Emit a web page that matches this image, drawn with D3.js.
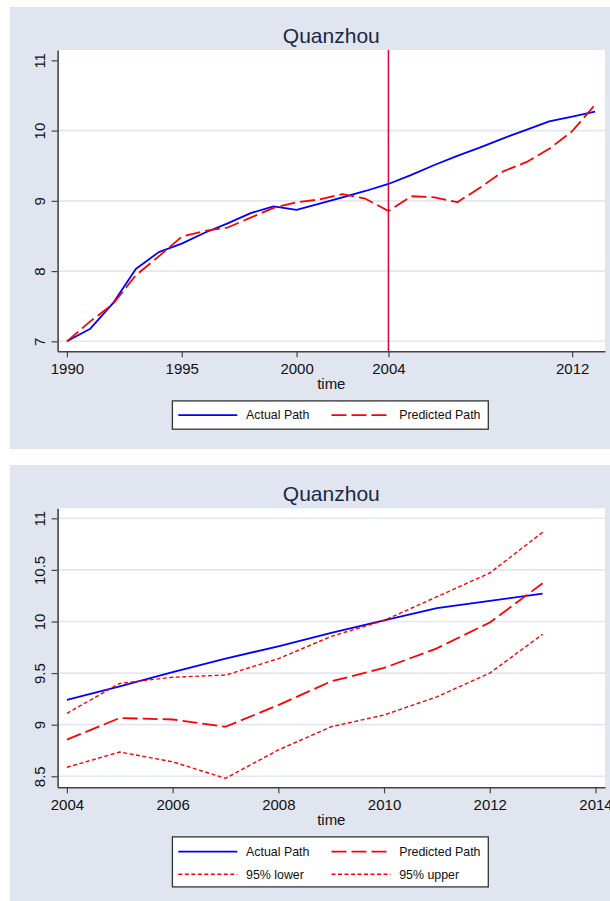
<!DOCTYPE html>
<html>
<head>
<meta charset="utf-8">
<script src="https://cdn.jsdelivr.net/npm/d3@7"></script>
<style>
  html, body { margin: 0; padding: 0; background: #ffffff; }
  svg { display: block; font-family: "Liberation Sans", Arial, sans-serif; }
</style>
</head>
<body>
<svg id="chart" width="610" height="901"></svg>
<script>
// Synthetic control paths for Quanzhou (log scale outcome)
const years = [1990, 1991, 1992, 1993, 1994, 1995, 1996, 1997, 1998, 1999, 2000, 2001,
               2002, 2003, 2004, 2005, 2006, 2007, 2008, 2009, 2010, 2011, 2012, 2013];
const actualPath = [7.00, 7.175, 7.54, 8.03, 8.27, 8.39, 8.545, 8.68, 8.825, 8.92, 8.87, 8.96,
                    9.05, 9.14, 9.24, 9.37, 9.51, 9.64, 9.76, 9.89, 10.01, 10.13, 10.20, 10.27];
const predictedPath = [7.00, 7.28, 7.53, 7.94, 8.21, 8.49, 8.57, 8.62, 8.76, 8.90, 8.98, 9.02,
                       9.095, 9.03, 8.855, 9.065, 9.05, 8.98, 9.19, 9.42, 9.55, 9.74, 9.99, 10.37];

// Forecast window with 95% bounds
const forecastYears = [2004, 2005, 2006, 2007, 2008, 2009, 2010, 2011, 2012, 2013];
const lower95 = [8.587, 8.735, 8.64, 8.48, 8.755, 8.98, 9.094, 9.27, 9.50, 9.876];
const upper95 = [9.11, 9.40, 9.46, 9.48, 9.64, 9.855, 10.01, 10.24, 10.47, 10.865];

const treatmentYear = 2004;

const topXTicks = [1990, 1995, 2000, 2004, 2012];
const topYTicks = [7, 8, 9, 10, 11];
const topGrid = [7, 8, 9, 10];
const bottomXTicks = [2004, 2006, 2008, 2010, 2012, 2014];
const bottomYTicks = [8.5, 9, 9.5, 10, 10.5, 11];

const titleText = "Quanzhou";
const xTitle = "time";

const BG = "#e0e5ef";
const GRID = "#e3e7f0";
const AXIS = "#444";
const BLUE = "#0000ff";
const RED = "#ff0000";
const VLINE = "#d20a3c";

const svg = d3.select("#chart");

function fmt(v) { return String(v); }

function drawPanel(cfg) {
  const g = svg.append("g");
  // panel background
  g.append("rect").attr("x", 10).attr("y", cfg.top).attr("width", 600).attr("height", cfg.height)
    .attr("fill", BG);

  const x = d3.scaleLinear().domain(cfg.xDomain).range([57.6, 605]);
  const y = d3.scaleLinear().domain(cfg.yDomain).range([cfg.plotBottom, cfg.plotTop]);

  // plot region
  g.append("rect").attr("x", 57.6).attr("y", cfg.plotTop)
    .attr("width", 605 - 57.6).attr("height", cfg.plotBottom - cfg.plotTop)
    .attr("fill", "#ffffff");

  // gridlines
  g.append("g").selectAll("line").data(cfg.grid).join("line")
    .attr("x1", 57.6).attr("x2", 605)
    .attr("y1", d => y(d)).attr("y2", d => y(d))
    .attr("stroke", GRID).attr("stroke-width", 1.6);

  // title
  g.append("text").attr("x", (57.6 + 605) / 2).attr("y", cfg.top + 36.4)
    .attr("text-anchor", "middle").attr("font-size", 21).attr("fill", "#1c2746")
    .text(titleText);

  // extra marks (vertical reference line)
  if (cfg.vline != null) {
    g.append("line").attr("x1", x(cfg.vline)).attr("x2", x(cfg.vline))
      .attr("y1", cfg.plotTop).attr("y2", cfg.plotBottom)
      .attr("stroke", VLINE).attr("stroke-width", 1.5);
  }

  // series
  const line = d3.line().x(d => x(d[0])).y(d => y(d[1]));
  cfg.series.forEach(s => {
    g.append("path").datum(s.xs.map((v, i) => [v, s.ys[i]]))
      .attr("d", line).attr("fill", "none")
      .attr("stroke", s.color).attr("stroke-width", s.width)
      .attr("stroke-dasharray", s.dash || null)
      .attr("stroke-linejoin", "round");
  });

  // y axis
  const ya = g.append("g").attr("transform", "translate(57.6,0)")
    .call(d3.axisLeft(y).tickValues(cfg.yTicks).tickFormat(fmt).tickSize(6).tickSizeOuter(0));
  ya.select(".domain").attr("stroke", AXIS).attr("stroke-width", 1.6);
  ya.selectAll(".tick line").attr("stroke", AXIS).attr("stroke-width", 1.2);
  ya.selectAll(".tick text")
    .attr("x", null).attr("dy", null)
    .attr("transform", "translate(-13,0) rotate(-90)")
    .attr("text-anchor", "middle").attr("font-size", 15)
    .attr("font-family", "'Liberation Sans', Arial, sans-serif").attr("fill", "#111");

  // x axis
  const xa = g.append("g").attr("transform", `translate(0,${cfg.plotBottom})`)
    .call(d3.axisBottom(x).tickValues(cfg.xTicks).tickFormat(fmt).tickSize(6).tickSizeOuter(0));
  xa.select(".domain").attr("stroke", AXIS).attr("stroke-width", 1.6);
  xa.selectAll(".tick line").attr("stroke", AXIS).attr("stroke-width", 1.2);
  xa.selectAll(".tick text")
    .attr("y", 23).attr("dy", null).attr("font-size", 15)
    .attr("font-family", "'Liberation Sans', Arial, sans-serif").attr("fill", "#111");

  g.append("text").attr("x", (57.6 + 605) / 2).attr("y", cfg.plotBottom + 37.2)
    .attr("text-anchor", "middle").attr("font-size", 15).attr("fill", "#111")
    .text(xTitle);

  // legend
  const lt = cfg.plotBottom + 49.6;
  const rows = Math.ceil(cfg.series.length / 2);
  const lh = rows === 1 ? 28.3 : 50;
  const lg = g.append("g");
  lg.append("rect").attr("x", 172.4).attr("y", lt).attr("width", 488.3 - 172.4).attr("height", lh)
    .attr("fill", "#ffffff").attr("stroke", "#333").attr("stroke-width", 1.3);
  const colX = [178.3, 331.5];
  cfg.series.forEach((s, i) => {
    const c = i % 2, r = Math.floor(i / 2);
    const ly = rows === 1 ? lt + lh / 2 : lt + 14.7 + r * 22.7;
    lg.append("line").attr("x1", colX[c]).attr("x2", colX[c] + 59).attr("y1", ly).attr("y2", ly)
      .attr("stroke", s.color).attr("stroke-width", s.width)
      .attr("stroke-dasharray", s.dash || null);
    lg.append("text").attr("x", colX[c] + 67.7).attr("y", ly + 4.4)
      .attr("font-size", 12.4).attr("fill", "#111").text(s.label);
  });
}

const idx = forecastYears.map(yr => years.indexOf(yr));

drawPanel({
  top: 7, height: 442, plotTop: 50, plotBottom: 351.3,
  xDomain: [1989.595, 2013.43], yDomain: [6.858, 11.147],
  xTicks: topXTicks, yTicks: topYTicks, grid: topGrid,
  vline: treatmentYear,
  series: [
    { label: "Actual Path", xs: years, ys: actualPath, color: BLUE, width: 1.8 },
    { label: "Predicted Path", xs: years, ys: predictedPath, color: RED, width: 1.8, dash: "15,5" }
  ]
});

drawPanel({
  top: 465, height: 436, plotTop: 508.3, plotBottom: 787.3,
  xDomain: [2003.824, 2014.18], yDomain: [8.393, 11.097],
  xTicks: bottomXTicks, yTicks: bottomYTicks, grid: bottomYTicks,
  vline: null,
  series: [
    { label: "Actual Path", xs: forecastYears, ys: idx.map(i => actualPath[i]), color: BLUE, width: 1.8 },
    { label: "Predicted Path", xs: forecastYears, ys: idx.map(i => predictedPath[i]), color: RED, width: 1.8, dash: "15,5" },
    { label: "95% lower", xs: forecastYears, ys: lower95, color: RED, width: 1.4, dash: "4,2.5" },
    { label: "95% upper", xs: forecastYears, ys: upper95, color: RED, width: 1.4, dash: "4,2.5" }
  ]
});
</script>
</body>
</html>
